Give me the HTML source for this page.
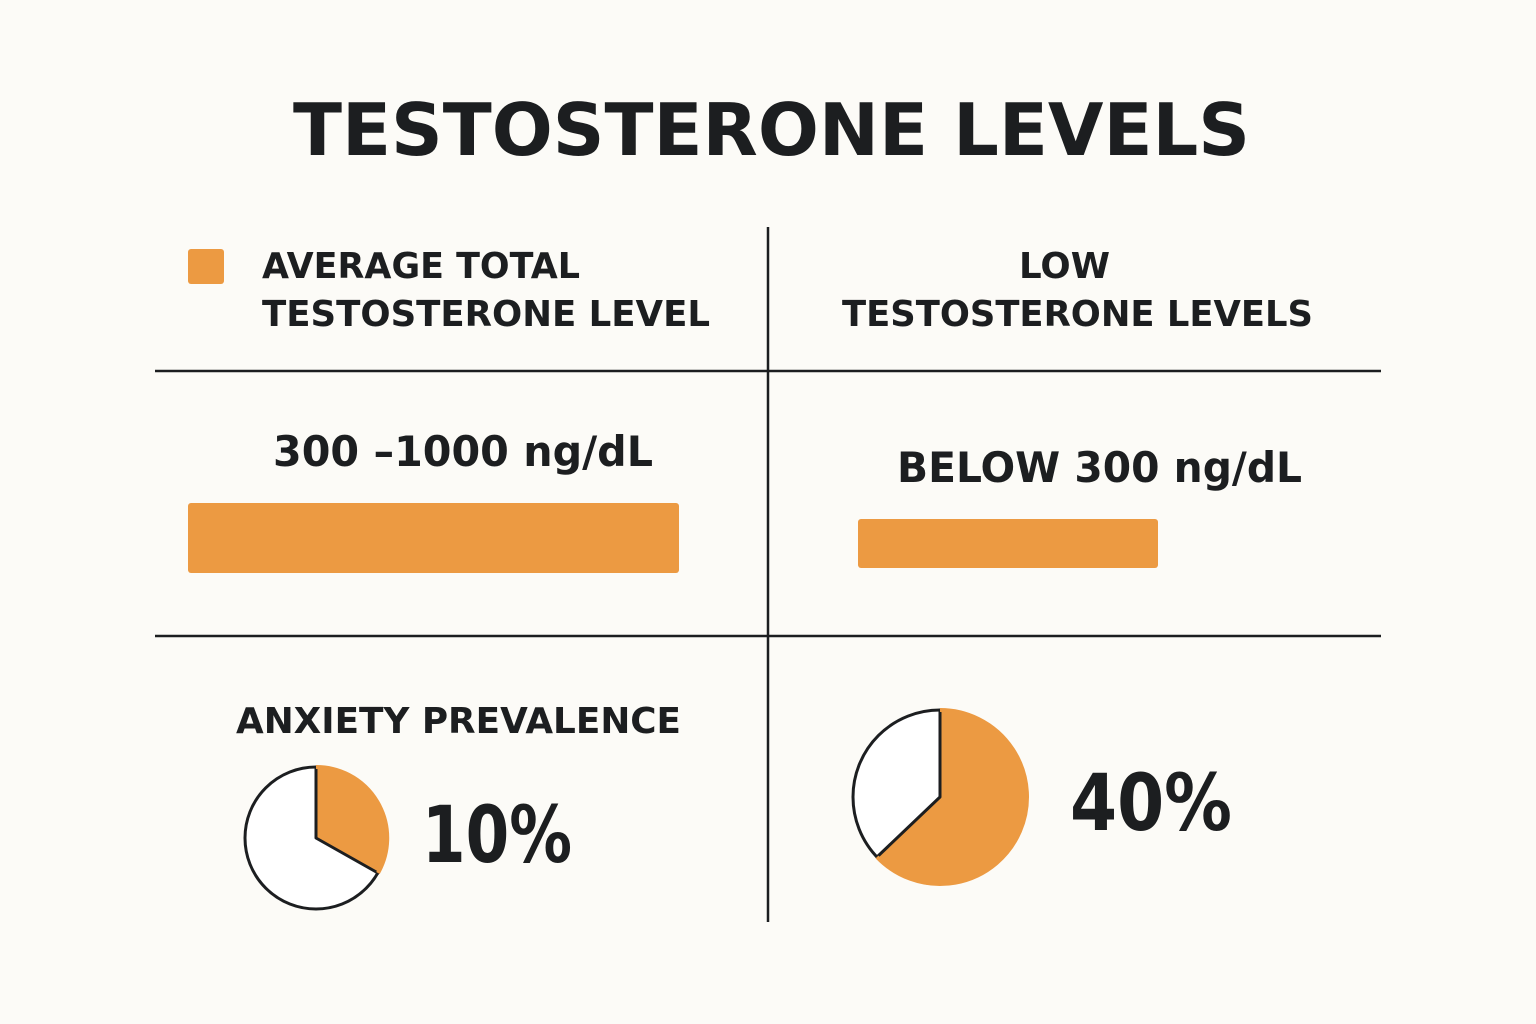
<!DOCTYPE html>
<html><head><meta charset="utf-8"><style>
body{margin:0;background:#fcfbf7;}
svg{display:block}
text{font-family:"DejaVu Sans","Liberation Sans",sans-serif;fill:#1c1e20;font-weight:bold}
</style></head><body>
<svg width="1536" height="1024" viewBox="0 0 1536 1024">
<rect width="1536" height="1024" fill="#fcfbf7"/>
<text x="293" y="155" font-size="72" textLength="957" lengthAdjust="spacingAndGlyphs">TESTOSTERONE LEVELS</text>
<g stroke="#1c1e20" stroke-width="2.5">
<line x1="768" y1="227" x2="768" y2="922"/>
<line x1="155" y1="371" x2="1381" y2="371"/>
<line x1="155" y1="636" x2="1381" y2="636"/>
</g>
<rect x="188" y="249" width="36" height="35" rx="3" fill="#ec9a42"/>
<text x="262" y="278" font-size="36" textLength="318" lengthAdjust="spacingAndGlyphs">AVERAGE TOTAL</text>
<text x="262" y="326" font-size="36" textLength="448" lengthAdjust="spacingAndGlyphs">TESTOSTERONE LEVEL</text>
<text x="1019" y="278" font-size="36" textLength="91" lengthAdjust="spacingAndGlyphs">LOW</text>
<text x="842" y="326" font-size="36" textLength="471" lengthAdjust="spacingAndGlyphs">TESTOSTERONE LEVELS</text>
<text x="273" y="466" font-size="42" textLength="380" lengthAdjust="spacingAndGlyphs">300 –1000 ng/dL</text>
<rect x="188" y="503" width="491" height="70" rx="3" fill="#ec9a42"/>
<text x="897" y="482" font-size="42" textLength="405" lengthAdjust="spacingAndGlyphs">BELOW 300 ng/dL</text>
<rect x="858" y="519" width="300" height="49" rx="3" fill="#ec9a42"/>
<text x="236" y="733" font-size="36" textLength="445" lengthAdjust="spacingAndGlyphs">ANXIETY PREVALENCE</text>
<circle cx="316" cy="838" r="71" fill="#fff" stroke="#1c1e20" stroke-width="3"/>
<path d="M316,838 L316,767 A71,71 0 0 1 378,873 Z" fill="#ec9a42" stroke="#1c1e20" stroke-width="3" stroke-linejoin="round"/>
<path d="M316,767 A71,71 0 0 1 378,873" fill="none" stroke="#ec9a42" stroke-width="4"/>
<text x="422" y="862" font-size="78" textLength="150" lengthAdjust="spacingAndGlyphs">10%</text>
<circle cx="940" cy="797" r="87" fill="#fff" stroke="#1c1e20" stroke-width="3"/>
<path d="M940,797 L940,710 A87,87 0 1 1 877,857 Z" fill="#ec9a42" stroke="#1c1e20" stroke-width="3" stroke-linejoin="round"/>
<path d="M940,710 A87,87 0 1 1 877,857" fill="none" stroke="#ec9a42" stroke-width="4"/>
<text x="1070" y="830" font-size="78" textLength="162" lengthAdjust="spacingAndGlyphs">40%</text>
</svg>
</body></html>
